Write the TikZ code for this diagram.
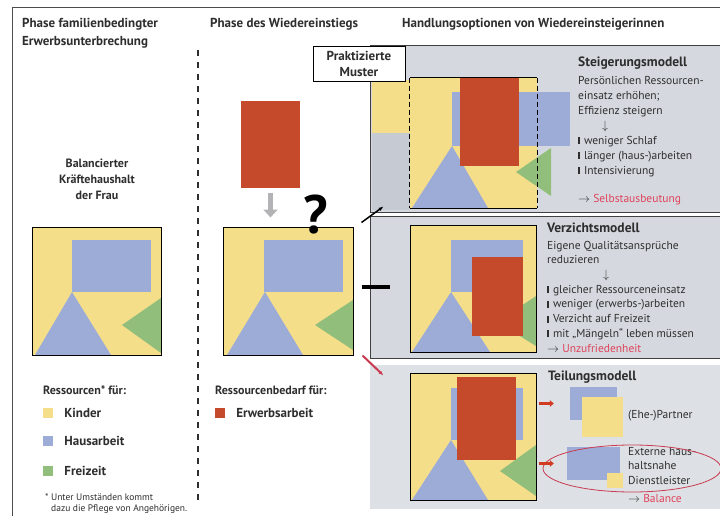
\documentclass[tikz,border=0pt]{standalone}
\usepackage{fontspec}
\setmainfont{PT Sans}
\usepackage{tikz}
\usetikzlibrary{positioning,arrows.meta,shapes.geometric}

\definecolor{gelb}{HTML}{F5DE8A}
\definecolor{blau}{HTML}{9DABD7}
\definecolor{gruen}{HTML}{91BE7A}
\definecolor{rot}{HTML}{C44A2B}
\definecolor{panelgrau}{HTML}{D5D9DF}
\definecolor{schatten}{HTML}{C6CBD3}
\definecolor{pfeilgrau}{HTML}{B3B3B5}
\definecolor{textrot}{HTML}{E0425B}
\definecolor{schrift}{HTML}{2E2E2E}

\newcommand{\balken}{\rule{1.8pt}{7pt}\hspace{4pt}}

\tikzset{
	kopf/.style={font=\fontsize{13}{18}\selectfont\bfseries, text=schrift, anchor=base west, align=left, inner sep=0pt},
	titel/.style={font=\fontsize{12}{16}\selectfont\bfseries, text=schrift, inner sep=0pt},
	modell/.style={font=\fontsize{13.5}{14}\selectfont\bfseries, text=schrift, anchor=base west, inner sep=0pt},
	liste/.style={font=\fontsize{11.5}{15}\selectfont, text=schrift, anchor=base west, align=left, inner sep=0pt},
	legtext/.style={font=\fontsize{13}{14}\selectfont\bfseries, text=schrift, inner sep=0pt},
	feld/.style={minimum size=10pt, inner sep=0pt},
	quadrat/.style={draw, line width=1pt, inner sep=0pt},
	panel/.style={fill=panelgrau, inner sep=0pt, line width=0.8pt},
	pfeilrot/.style={rot!80!red, line width=2.5pt, -{Triangle[length=4pt,width=6.5pt]}},
}

\begin{document}
\begin{tikzpicture}[x=1pt, y=-1pt]
		\useasboundingbox (0,0) rectangle (720,516);
		\fill[white] (0,0) rectangle (720,516);
		\draw[black!70, line width=0.8pt] (12,516) -- (12,7) -- (720,7);

		\node(phase1) [kopf] at (22,46) {Phase familienbedingter\\Erwerbsunterbrechung};
		\node(phase2) [kopf] at (210,28) {Phase des Wiedereinstiegs};
		\node(phase3) [kopf] at (402,28) {Handlungsoptionen von Wiedereinsteigerinnen};

		\draw[schrift, line width=1.3pt, dash pattern=on 6pt off 6pt] (198,50) -- (198,505);

		\node(kraefte) [titel, align=center, anchor=base] at (97,199) {Balancierter\\Kräftehaushalt\\der Frau};

		\fill[gelb] (32,227) rectangle (161,355);
		\fill[blau] (72,240) rectangle (151,292);
		\fill[blau] (72,292) -- (35,355) -- (111,355) -- cycle;
		\fill[gruen] (122,325) -- (161,298) -- (161,353) -- cycle;
		\node(links) [quadrat, minimum width=129pt, minimum height=128pt] at (96.5,291) {};

		\node(erwerb) [fill=rot, minimum width=59pt, minimum height=87pt, inner sep=0pt] at (270.5,144.5) {};
		\fill[gelb] (223,227) rectangle (353,355);
		\fill[blau] (264,240) rectangle (343,292);
		\fill[blau] (265,292) -- (227,355) -- (303,355) -- cycle;
		\fill[gruen] (315,325) -- (353,300) -- (353,350) -- cycle;
		\node(mitte) [quadrat, minimum width=130pt, minimum height=128pt] at (288,291) {};
		\node(frage) [anchor=base, font=\fontsize{54}{54}\selectfont\bfseries, inner sep=0pt] at (316,233) {?};
		\draw[pfeilgrau, line width=5pt, -{Triangle[length=8pt,width=14pt]}] ([yshift=-5pt]erwerb.south) -- ([yshift=9pt]erwerb.south |- mitte.north);

		\node(p1) [panel, draw=black!75, minimum width=352pt, minimum height=167pt] at (546,128.5) {};
		\node(p2) [panel, draw=black!75, minimum width=352pt, minimum height=142pt] at (546,287) {};
		\node(p3) [panel, fill=panelgrau!80!white, minimum width=352pt, minimum height=144pt] at (546,437) {};

		\fill[gelb] (372,80) rectangle (410,133);
		\fill[schatten] (372,133) rectangle (410,210);
		\fill[gelb] (410,78) rectangle (537,208);
		\fill[blau] (452,92) rectangle (570,146);
		\fill[blau] (452,146) -- (412,208) -- (488,208) -- cycle;
		\fill[gruen] (516,172) -- (551,148) -- (551,196) -- cycle;
		\fill[rot] (460,78) rectangle (519,166);
		\node(steig) [minimum width=127pt, minimum height=130pt, inner sep=0pt] at (473.5,143) {};
		\draw[line width=1pt] (steig.north west) -- (steig.north east) (steig.south west) -- (steig.south east);
		\draw[line width=1pt, dash pattern=on 5pt off 3pt] (steig.north west) -- (steig.south west) (steig.north east) -- (steig.south east);

		\node(muster) [draw, fill=white, line width=0.8pt, minimum width=92pt, minimum height=35pt, align=center, font=\fontsize{13}{16}\selectfont\bfseries, text=schrift] at (359,63.5) {Praktizierte\\Muster};

		\node(steigtitel) [modell] at (578,67) {Steigerungsmodell};
		\node(steigtext) [liste] at (578,202) {Persönlichen Ressourcen-\\einsatz erhöhen;\\Effizienz steigern\\\hspace*{24pt}$\downarrow$\\\balken weniger Schlaf\\\balken länger (haus-)arbeiten\\\balken Intensivierung\\[13pt]$\rightarrow$ \textcolor{textrot}{Selbstausbeutung}};

		\fill[gelb] (410,225) rectangle (536,352);
		\fill[blau] (451,240) rectangle (523,292);
		\fill[blau] (451,292) -- (412,352) -- (490,352) -- cycle;
		\fill[gruen] (497,322) -- (536,296) -- (536,346) -- cycle;
		\fill[rot] (472,257) rectangle (523,336);
		\node(verz) [quadrat, minimum width=126pt, minimum height=127pt] at (473,288.5) {};

		\node(verztitel) [modell] at (547,232) {Verzichtsmodell};
		\node(verztext) [liste, font=\fontsize{11.5}{14.7}\selectfont] at (547,352) {Eigene Qualitätsansprüche\\reduzieren\\\hspace*{56pt}$\downarrow$\\\balken gleicher Ressourceneinsatz\\\balken weniger (erwerbs-)arbeiten\\\balken Verzicht auf Freizeit\\\balken mit „Mängeln“ leben müssen\\$\rightarrow$ \textcolor{textrot}{Unzufriedenheit}};

		\fill[gelb] (410,373) rectangle (536,500);
		\fill[blau] (451,388) rectangle (523,440);
		\fill[blau] (451,440) -- (412,500) -- (488,500) -- cycle;
		\fill[gruen] (500,471) -- (536,445) -- (536,496) -- cycle;
		\fill[rot] (457,377) rectangle (516,460);
		\node(teil) [quadrat, minimum width=126pt, minimum height=127pt] at (473,436.5) {};

		\node(teiltitel) [modell] at (548,380) {Teilungsmodell};
		\node(partnerblau) [fill=blau, minimum width=47pt, minimum height=33pt, inner sep=0pt] at (593.5,403.5) {};
		\node(partnergelb) [fill=gelb, minimum width=41pt, minimum height=40pt, inner sep=0pt] at (602.5,417) {};
		\node(partner) [liste] at (628,418) {(Ehe-)Partner};
		\node(dienstblau) [fill=blau, minimum width=53pt, minimum height=33pt, inner sep=0pt] at (593.5,463.5) {};
		\node(dienstgelb) [fill=gelb, minimum width=16pt, minimum height=15pt, inner sep=0pt] at (615,480.5) {};
		\node(dienst) [liste, font=\fontsize{11.5}{14.5}\selectfont] at (628,484) {Externe haus-\\haltsnahe\\Dienstleister};
		\node(extern) [ellipse, draw=textrot!90!black, line width=0.8pt, minimum width=178pt, minimum height=47pt] at (632,468.5) {};
		\node(balance) [liste] at (628,502) {$\rightarrow$ \textcolor{textrot}{Balance}};

		\draw[pfeilrot] ([xshift=2pt]teil.east |- partnerblau) -- ([xshift=-16pt]partnerblau.west);
		\draw[pfeilrot] ([xshift=2pt]teil.east |- dienstblau) -- ([xshift=-13pt]dienstblau.west);

		\draw[line width=1.5pt, -{Latex[length=5pt]}] ([xshift=8pt,yshift=4pt]mitte.north east) -- ([xshift=14pt,yshift=6pt]p1.south west);
		\draw[line width=3.5pt] ([xshift=8pt]p2.west -| mitte.east) -- ([xshift=20pt]p2.west);
		\draw[textrot!90!black, line width=2pt, -{Latex[length=5pt]}] ([xshift=9pt]mitte.south east) -- ([xshift=14pt,yshift=-11pt]p3.north west);

		\node(ressourcen) [legtext, font=\fontsize{12}{14}\selectfont\bfseries, anchor=base west] at (43,394) {Ressourcen* für:};
		\node(kfeld) [feld, fill=gelb] at (48,413) {};
		\node(hfeld) [feld, fill=blau, below=18pt of kfeld] {};
		\node(ffeld) [feld, fill=gruen, below=19pt of hfeld] {};
		\node(kinder) [legtext, right=11pt of kfeld] {Kinder};
		\node(haus) [legtext, right=11pt of hfeld] {Hausarbeit};
		\node(frei) [legtext, right=11pt of ffeld] {Freizeit};
		\node(fussnote) [liste, font=\fontsize{9.5}{11}\selectfont] at (45,511) {* Unter Umständen kommt\\\hspace*{6pt}dazu die Pflege von Angehörigen.};

		\node(bedarf) [legtext, font=\fontsize{12}{14}\selectfont\bfseries, anchor=base west] at (215,394) {Ressourcenbedarf für:};
		\node(efeld) [feld, fill=rot] at (220,413) {};
		\node(erwerbsarbeit) [legtext, right=11pt of efeld] {Erwerbsarbeit};
\end{tikzpicture}
\end{document}
